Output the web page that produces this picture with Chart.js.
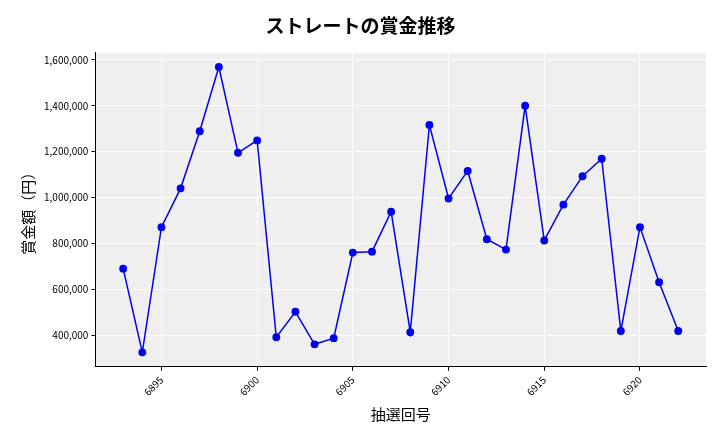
<!DOCTYPE html>
<html><head><meta charset="utf-8">
<script src="https://cdn.jsdelivr.net/npm/chart.js@4"></script>
<style>body{margin:0;background:#fff}#w{width:720px;height:432px}</style>
</head><body><div id="w"><canvas id="c"></canvas></div>
<script>
const draws=[6893,6894,6895,6896,6897,6898,6899,6900,6901,6902,6903,6904,6905,6906,6907,6908,6909,6910,6911,6912,6913,6914,6915,6916,6917,6918,6919,6920,6921,6922];
const prizes=[690000,325000,871000,1040000,1289000,1569000,1195000,1249000,391000,502000,360000,387000,760000,764000,938000,413000,1316000,996000,1116000,818000,773000,1400000,813000,969000,1093000,1169000,418000,871000,631000,418000];
const title='ストレートの賞金推移', xTitle='抽選回号', yTitle='賞金額（円）';
const F='"Noto Sans CJK JP", "Noto Sans", sans-serif';
const bg={id:'bg',beforeDraw(c){const a=c.chartArea,x=c.ctx;x.save();x.fillStyle='#efefef';x.fillRect(a.left,a.top,a.right-a.left,a.bottom-a.top);x.restore();}};
new Chart(document.getElementById('c'),{type:'line',
data:{datasets:[{data:draws.map((d,i)=>({x:d,y:prizes[i]})),borderColor:'#0000ee',backgroundColor:'#0000ee',borderWidth:1.5,pointRadius:3.2,pointHoverRadius:3.2,tension:0}]},
options:{responsive:true,maintainAspectRatio:false,animation:false,
layout:{padding:{left:15,right:14,top:12,bottom:5}},
plugins:{legend:{display:false},tooltip:{enabled:false},
title:{display:true,text:title,color:'#000',font:{family:F,size:19,weight:'bold'},padding:{top:2,bottom:16}}},
scales:{
x:{type:'linear',min:6891.55,max:6923.45,afterBuildTicks(a){a.ticks=[6895,6900,6905,6910,6915,6920].map(v=>({value:v}));},
ticks:{color:'#000',font:{family:F,size:10},maxRotation:45,minRotation:45,callback:v=>String(v)},
grid:{color:'#fff',drawTicks:true,tickColor:'#000',tickLength:4},border:{color:'#000'},
title:{display:true,text:xTitle,color:'#000',font:{family:F,size:15}}},
y:{min:262000,max:1631000,afterBuildTicks(a){a.ticks=[400000,600000,800000,1000000,1200000,1400000,1600000].map(v=>({value:v}));},
ticks:{color:'#000',font:{family:F,size:10},callback:v=>v.toLocaleString('en-US')},
grid:{color:'#fff',tickColor:'#000',tickLength:4},border:{color:'#000'},
title:{display:true,text:yTitle,color:'#000',font:{family:F,size:15}}}}},
plugins:[bg]});
</script></body></html>
